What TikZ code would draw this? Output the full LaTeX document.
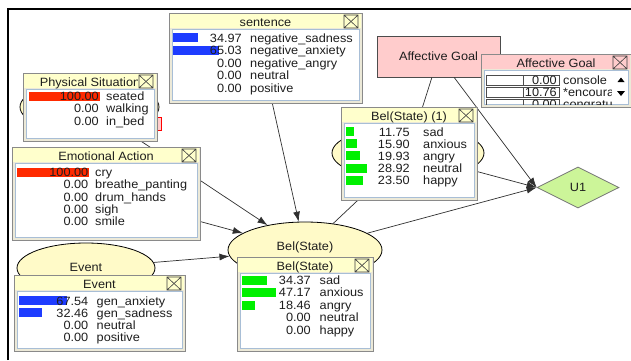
\documentclass[tikz,border=0pt]{standalone}
\usepackage{fontspec}
\setmainfont[FakeStretch=1.06]{Liberation Sans}
\usetikzlibrary{shapes.geometric,arrows.meta}
\definecolor{titlebg}{HTML}{FFFFCC}
\definecolor{nodebg}{HTML}{FFFAC8}
\definecolor{boxbg}{HTML}{ECE9D8}
\definecolor{boxedge}{HTML}{8A8A8A}
\definecolor{innerblue}{HTML}{A8BED6}
\definecolor{barred}{HTML}{FF2A00}
\definecolor{barblue}{HTML}{1E3CFF}
\definecolor{bargreen}{HTML}{00F000}
\definecolor{pinkbg}{HTML}{FFCCCC}
\definecolor{ugreen}{HTML}{CCF599}
\definecolor{txt}{HTML}{1E1E1E}
\definecolor{edgecol}{HTML}{303030}
\newcommand\fsz{\fontsize{12}{12}\selectfont}
% monitor window: name, x1, y1, x2, y2, title, title colour
\newcommand\monitor[7]{%
  \draw[boxedge, fill=boxbg, line width=1pt] (#2,#3) rectangle (#4,#5);
  \fill[#7] (#2+1,#3+1) rectangle (#4-1,#3+15);
  \draw[innerblue, fill=white, line width=1pt] (#2+3,#3+16) rectangle (#4-3,#5-3);
  \draw[xicon] (#4-18,#3+2) rectangle (#4-4,#3+15) (#4-18,#3+2) -- (#4-4,#3+15) (#4-18,#3+15) -- (#4-4,#3+2);
  \node[anchor=base] (#1t) at ({(#2+#4)/2},#3+13) {#6};}
% row: name, y, value, label
\newcommand\mrow[4]{%
  \node[anchor=base east] (#1v) at (\numx,#2+4.3) {#3};
  \node[anchor=base west] (#1l) at (\lblx,#2+4.3) {#4};}
% bar: y, length, colour
\newcommand\mbar[3]{\fill[#3] (\barx,#1-4.5) rectangle (\barx+#2,#1+4.5);}
\begin{document}
\begin{tikzpicture}[x=1pt,y=-1pt,
  every node/.style={font=\fsz, text=txt, inner sep=0pt},
  gnode/.style={ellipse, draw=black, fill=nodebg, line width=0.8pt, inner sep=0pt},
  link/.style={draw=edgecol, line width=0.7pt, -{Latex[length=10pt,width=7pt]}},
  xicon/.style={draw=black!75, line width=0.6pt}]
\useasboundingbox (0,0) rectangle (631,360);
\fill[white] (0,0) rectangle (631,360);
% frame
\draw[black, line width=2pt] (8,360) -- (8,8.5) -- (631,8.5);

% nodes of the network
\node[gnode, minimum width=139pt, minimum height=52pt] (phys) at (89.5,107) {};
\node[gnode, minimum width=152pt, minimum height=54pt] (belone) at (408,153) {};
\node[gnode, minimum width=138pt, minimum height=50pt] (event) at (86,268) {};
\node at (86,267) (eventlbl) {Event};
\node[gnode, minimum width=154pt, minimum height=56pt] (bel) at (305,250) {};
\node at (305,247) (bellbl) {Bel(State)};
\node[draw=black!70, fill=pinkbg, line width=0.8pt, minimum width=123pt, minimum height=41pt] (ag) at (438.5,56.5) {Affective Goal};
\node[diamond, aspect=2, draw=black!55, fill=ugreen, line width=0.8pt, minimum width=82pt, minimum height=41pt] (u1) at (578,187.5) {U1};
\node[draw=red, fill=pinkbg, line width=0.8pt, minimum width=13pt, minimum height=13pt] (minor) at (154.5,123.5) {};
\coordinate (sent) at (262,57);
\coordinate (emo) at (110,197);

% connectors
\draw[link] (phys) -- (bel);
\draw[link] (emo) -- (bel);
\draw[link] (sent) -- (bel);
\draw[link] (event) -- (bel);
\draw[link] (bel) -- (belone);
\draw[link] (ag) -- (belone);
\draw[link] (bel) -- (u1.west);
\draw[link] (belone) -- (u1.west);
\draw[link] (ag) -- (u1.west);

% sentence monitor
\monitor{sen}{169}{13}{362}{103}{sentence}{titlebg}
\def\barx{173}\def\numx{242}\def\lblx{250}
\mbar{37.7}{24.8}{barblue}
\mbar{50.2}{46.2}{barblue}
\mrow{sa}{37.7}{34.97}{negative\_sadness}
\mrow{sb}{50.2}{65.03}{negative\_anxiety}
\mrow{sc}{62.7}{0.00}{negative\_angry}
\mrow{sd}{75.2}{0.00}{neutral}
\mrow{se}{87.7}{0.00}{positive}

% physical situation monitor
\monitor{phm}{23}{73}{157}{141}{}{titlebg}
\begin{scope}
  \clip (24,74) rectangle (137.5,88);
  \node[anchor=base] (phmtitle) at (90,86) {Physical Situation};
\end{scope}
\def\barx{29}\def\numx{99}\def\lblx{106}
\mbar{96}{71}{barred}
\mrow{pa}{96}{100.00}{seated}
\mrow{pb}{108.6}{0.00}{walking}
\mrow{pc}{121.2}{0.00}{in\_bed}

% emotional action monitor
\monitor{emm}{12}{147}{200}{240}{Emotional Action}{titlebg}
\def\barx{17}\def\numx{88.5}\def\lblx{95}
\mbar{172.3}{71.5}{barred}
\mrow{ea}{172.3}{100.00}{cry}
\mrow{eb}{184.5}{0.00}{breathe\_panting}
\mrow{ec}{196.8}{0.00}{drum\_hands}
\mrow{ed}{209}{0.00}{sigh}
\mrow{ee}{221.2}{0.00}{smile}

% event monitor
\monitor{evm}{14}{275}{185}{351}{Event}{titlebg}
\def\barx{19}\def\numx{88.5}\def\lblx{96.5}
\mbar{300.7}{47.8}{barblue}
\mbar{312.7}{22.8}{barblue}
\mrow{va}{300.7}{67.54}{gen\_anxiety}
\mrow{vb}{312.7}{32.46}{gen\_sadness}
\mrow{vc}{324.7}{0.00}{neutral}
\mrow{vd}{336.7}{0.00}{positive}

% Bel(State) monitor
\monitor{bem}{237}{257}{373}{351}{Bel(State)}{titlebg}
\def\barx{242}\def\numx{311}\def\lblx{319.5}
\mbar{280}{24.8}{bargreen}
\mbar{292.6}{33.7}{bargreen}
\mbar{305}{12.6}{bargreen}
\mrow{ba}{280}{34.37}{sad}
\mrow{bb}{292.6}{47.17}{anxious}
\mrow{bc}{305}{18.46}{angry}
\mrow{bd}{317.4}{0.00}{neutral}
\mrow{bf}{330}{0.00}{happy}

% Bel(State) (1) monitor
\monitor{bom}{341}{107}{477}{200}{Bel(State) (1)}{titlebg}
\def\barx{346}\def\numx{410}\def\lblx{423}
\mbar{131.7}{8}{bargreen}
\mbar{143.7}{11.3}{bargreen}
\mbar{155.7}{13.6}{bargreen}
\mbar{168}{20.6}{bargreen}
\mbar{180}{16.7}{bargreen}
\mrow{oa}{131.7}{11.75}{sad}
\mrow{ob}{143.7}{15.90}{anxious}
\mrow{oc}{155.7}{19.93}{angry}
\mrow{od}{168}{28.92}{neutral}
\mrow{of}{180}{23.50}{happy}

% Affective Goal monitor
\monitor{agm}{481}{54}{631}{107}{Affective Goal}{pinkbg}
\begin{scope}
  \clip (484,70) rectangle (611,104.5);
  \draw[black!70, line width=0.6pt] (486,75) rectangle (559,85) (523,75) -- (523,85);
  \draw[black!70, line width=0.6pt] (486,87) rectangle (559,97) (523,87) -- (523,97);
  \draw[black!70, line width=0.6pt] (486,99) rectangle (559,109) (523,99) -- (523,109);
  \def\numx{557}\def\lblx{563}
  \mrow{ga}{80}{0.00}{console}
  \mrow{gb}{92}{10.76}{*encourage}
  \mrow{gc}{104}{0.00}{congratulate}
\end{scope}
\fill[black] (617.5,82) -- (624.5,82) -- (621,77.5) -- cycle;
\fill[black] (617,91) -- (625,91) -- (621,96) -- cycle;
\end{tikzpicture}
\end{document}
